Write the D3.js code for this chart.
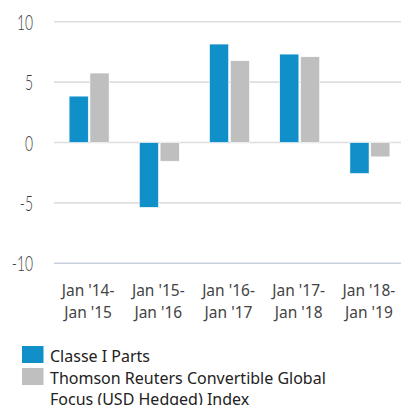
<!DOCTYPE html>
<html><head><meta charset="utf-8">
<script src="https://cdn.jsdelivr.net/npm/d3@7"></script>
<style>body{margin:0;background:#fff}svg{display:block}</style>
</head><body>
<script>
const categories = [["Jan '14-","Jan '15"],["Jan '15-","Jan '16"],["Jan '16-","Jan '17"],["Jan '17-","Jan '18"],["Jan '18-","Jan '19"]];
const seriesNames = ["Classe I Parts","Thomson Reuters Convertible Global Focus (USD Hedged) Index"];
const classeI = [3.84, -5.37, 8.15, 7.32, -2.57];
const indexVals = [5.75, -1.55, 6.77, 7.1, -1.19];
const yTicks = [10, 5, 0, -5, -10];
const colors = ["#118fc9", "#bfbfbf"];

const W = 401, H = 405;
const svg = d3.select("body").append("svg").attr("width", W).attr("height", H);
const y = d3.scaleLinear().domain([-10, 10]).range([263.3, 21.7]);
const x0 = d3.scaleBand().domain(d3.range(categories.length)).range([54, 405]).padding(0);
const x1 = d3.scaleBand().domain([0, 1]).range([0, 40]).paddingInner(0.08);
const textCol = "#3a3a3a";

// gridlines
svg.append("g").selectAll("line").data(yTicks).join("line")
  .attr("x1", 54).attr("x2", W).attr("y1", d => y(d)).attr("y2", d => y(d))
  .attr("stroke", d => d === -10 ? "#c9d1dd" : "#dedede").attr("stroke-width", 1.6);

// y labels
const yAxis = d3.axisLeft(y).tickValues(yTicks).tickSize(0).tickPadding(0).tickFormat(d => String(d));
const gy = svg.append("g").attr("transform", "translate(33,0)").call(yAxis);
gy.select(".domain").remove();
gy.selectAll("text").attr("font-family", "Lato, 'Liberation Sans', sans-serif").attr("font-weight", 300)
  .attr("font-size", 21).attr("fill", textCol).attr("dy", "0.36em")
  .attr("x", 0).attr("transform", "scale(0.66,1)");

// bars
const data = categories.map((c, i) => [classeI[i], indexVals[i]]);
const groups = svg.append("g").selectAll("g").data(data).join("g")
  .attr("transform", (d, i) => `translate(${x0(i) + x0.bandwidth()/2 - 20},0)`);
groups.selectAll("rect").data(d => d.map((v, s) => ({v, s}))).join("rect")
  .attr("x", d => x1(d.s)).attr("width", x1.bandwidth())
  .attr("y", d => y(Math.max(0, d.v))).attr("height", d => Math.abs(y(d.v) - y(0)))
  .attr("fill", d => colors[d.s]).attr("stroke", "#fff").attr("stroke-width", 0.6);

// x labels
const gx = svg.append("g");
categories.forEach((c, i) => {
  const cx = x0(i) + x0.bandwidth()/2 - 1;
  const t = gx.append("text").attr("text-anchor", "middle").attr("font-family", "'Noto Sans', sans-serif")
    .attr("font-size", 15.5).attr("fill", "#444");
  c.forEach((line, j) => t.append("tspan").attr("x", cx).attr("y", 296 + j*22).text(line));
});

// legend
const leg = svg.append("g");
const legLines = [["Classe I Parts"], ["Thomson Reuters Convertible Global", "Focus (USD Hedged) Index"]];
const legY = [346, 368];
seriesNames.forEach((n, s) => {
  leg.append("rect").attr("x", 22).attr("y", legY[s]).attr("width", 21.5).attr("height", 17).attr("fill", colors[s]);
  const t = leg.append("text").attr("font-family", "'Noto Sans', sans-serif").attr("font-size", 16).attr("fill", "#222");
  legLines[s].forEach((line, j) => t.append("tspan").attr("x", 50).attr("y", legY[s] + 15.5 + j*21.5).text(line));
});
</script>
</body></html>
